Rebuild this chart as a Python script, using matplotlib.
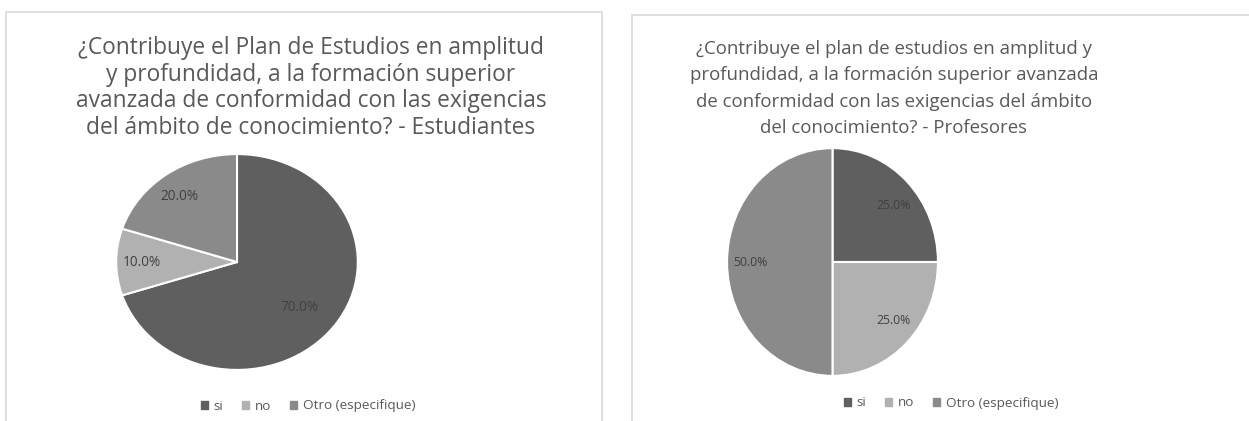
import matplotlib
matplotlib.use("Agg")
from matplotlib import pyplot as plt
from matplotlib.patches import Rectangle, Patch

plt.rcParams['font.family'] = ['Open Sans', 'DejaVu Sans']

categories = ["si", "no", "Otro (especifique)"]
colors = ["#5f5f5f", "#b1b1b1", "#8a8a8a"]

students_values = [70.0, 10.0, 20.0]
teachers_values = [25.0, 25.0, 50.0]

students_title = ("¿Contribuye el Plan de Estudios en amplitud\n"
                  "y profundidad, a la formación superior\n"
                  "avanzada de conformidad con las exigencias\n"
                  "del ámbito de conocimiento? - Estudiantes")
teachers_title = ("¿Contribuye el plan de estudios en amplitud y\n"
                  "profundidad, a la formación superior avanzada\n"
                  "de conformidad con las exigencias del ámbito\n"
                  "del conocimiento? - Profesores")

W, H = 1249, 421
fig = plt.figure(figsize=(W / 100, H / 100), dpi=100)
fig.patch.set_facecolor("white")


def px_axes(x0, y0, x1, y1):
    # pixel box (top-left origin) -> figure axes
    return fig.add_axes([x0 / W, 1 - y1 / H, (x1 - x0) / W, (y1 - y0) / H])


def panel(x0, y0, x1, y1):
    fig.patches.append(Rectangle((x0 / W, 1 - y1 / H), (x1 - x0) / W, (y1 - y0) / H,
                                 transform=fig.transFigure, fill=False,
                                 edgecolor="#d9d9d9", linewidth=1.2))


def draw_pie(box, values, label_pos, fs):
    ax = px_axes(*box)
    wedges, _ = ax.pie(values, colors=colors, startangle=90, counterclock=False,
                       radius=1, wedgeprops=dict(edgecolor="white", linewidth=1.5))
    ax.set_aspect("auto")
    ax.set_xlim(-1.01, 1.01)
    ax.set_ylim(-1.01, 1.01)
    ax.axis("off")
    for v, (lx, ly) in zip(values, label_pos):
        ax.text(lx, ly, f"{v:.1f}%", ha="center", va="center", fontsize=fs, color="#404040")
    return ax


def legend(cx, cy):
    handles = [Patch(facecolor=c, edgecolor=c) for c in colors]
    fig.legend(handles, categories, loc="center", bbox_to_anchor=(cx / W, 1 - cy / H),
               ncol=3, frameon=False, fontsize=9.7, labelcolor="#595959",
               handlelength=0.55, handleheight=0.55, handletextpad=0.4, columnspacing=1.4)


# left panel - students
panel(6, 12, 602, 430)
fig.text(311 / W, 1 - 36 / H, students_title, ha="center", va="top", fontsize=16.4,
         color="#595959", linespacing=1.15)
draw_pie((115, 153, 359, 371), students_values,
         [(0.52, -0.42), (-0.79, 0.0), (-0.48, 0.61)], 9.8)
legend(308, 406)

# right panel - teachers
panel(632, 15, 1260, 430)
fig.text(894 / W, 1 - 40 / H, teachers_title, ha="center", va="top", fontsize=13.4,
         color="#595959", linespacing=1.6)
draw_pie((726, 147, 939, 377), teachers_values,
         [(0.58, 0.5), (0.58, -0.51), (-0.78, 0.0)], 8.8)
legend(951, 403)

fig.savefig("out.png", dpi=100, facecolor="white")
